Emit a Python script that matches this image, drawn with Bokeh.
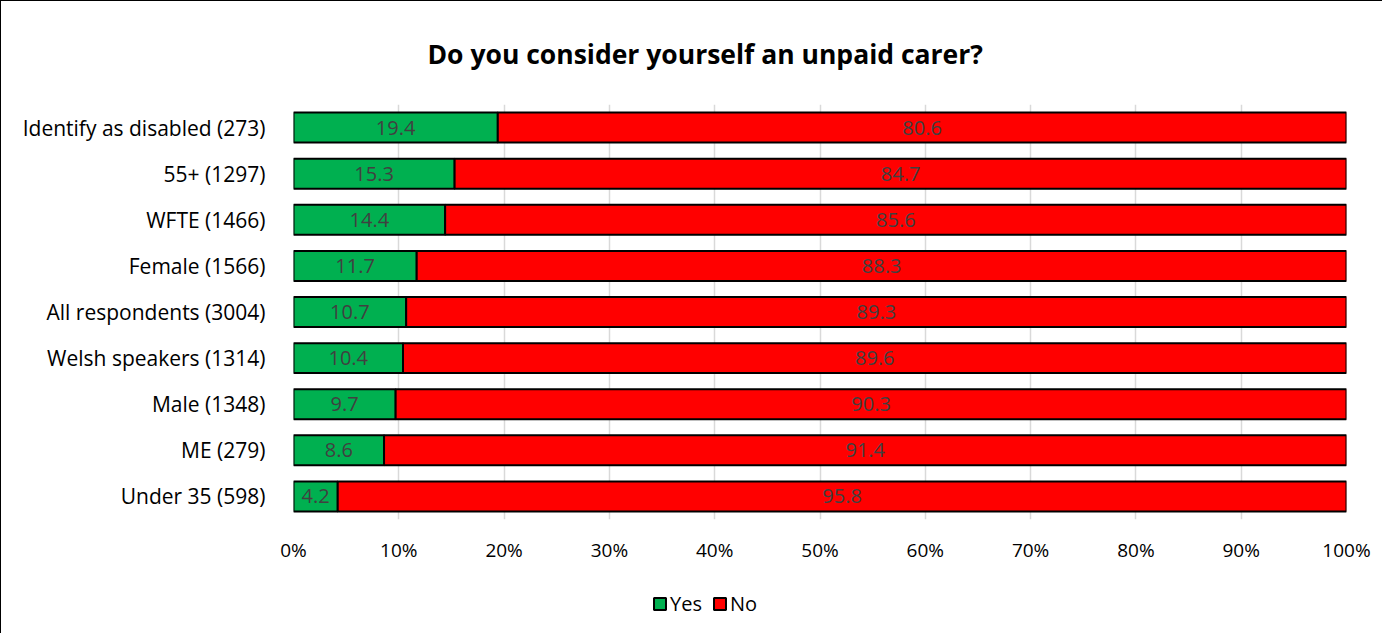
from bokeh.plotting import figure
from bokeh.layouts import column
from bokeh.models import ColumnDataSource, Legend, LegendItem, FixedTicker, CustomJSTickFormatter
from bokeh.embed import file_html
from bokeh.resources import INLINE
from bokeh.core.properties import value

categories = ["Identify as disabled (273)", "55+ (1297)", "WFTE (1466)", "Female (1566)",
              "All respondents (3004)", "Welsh speakers (1314)", "Male (1348)", "ME (279)",
              "Under 35 (598)"]
yes_vals = [19.4, 15.3, 14.4, 11.7, 10.7, 10.4, 9.7, 8.6, 4.2]
no_vals = [80.6, 84.7, 85.6, 88.3, 89.3, 89.6, 90.3, 91.4, 95.8]
series_names = ["Yes", "No"]
x_ticks = [0, 10, 20, 30, 40, 50, 60, 70, 80, 90, 100]

FONT = "Open Sans"
GREEN = "#00B050"
RED = "#FF0000"
BORDER = "1.5px solid black"

factors = list(reversed(categories))

p = figure(frame_width=1052, frame_height=414, y_range=factors, x_range=(0, 100),
           output_backend="svg", toolbar_location=None,
           min_border_left=292, min_border_right=37, min_border_top=103, min_border_bottom=68)
p.styles = {"border-left": BORDER, "border-top": BORDER}

src = ColumnDataSource(dict(
    cat=categories,
    yes_end=yes_vals,
    no_end=[y + n for y, n in zip(yes_vals, no_vals)],
    yes_mid=[y / 2 for y in yes_vals],
    no_mid=[y + n / 2 for y, n in zip(yes_vals, no_vals)],
    yes_txt=[f"{v:.1f}" for v in yes_vals],
    no_txt=[f"{v:.1f}" for v in no_vals],
))

p.hbar(y="cat", left=0, right="yes_end", height=0.65, source=src,
       fill_color=GREEN, line_color="black", line_width=2)
p.hbar(y="cat", left="yes_end", right="no_end", height=0.65, source=src,
       fill_color=RED, line_color="black", line_width=2)

p.text(x="yes_mid", y="cat", text="yes_txt", source=src, text_align="center",
       text_baseline="middle", text_color="#404040", text_font=value(FONT), text_font_size="20px")
p.text(x="no_mid", y="cat", text="no_txt", source=src, text_align="center",
       text_baseline="middle", text_color="#404040", text_font=value(FONT), text_font_size="20px")

p.title.text = "Do you consider yourself an unpaid carer?"
p.title.align = "left"
p.title.offset = 134
p.title.text_font = FONT
p.title.text_font_size = "26.5px"
p.title.text_font_style = "bold"
p.title.text_color = "black"
p.title.standoff = 65

p.xaxis.ticker = FixedTicker(ticks=x_ticks)
p.xaxis.formatter = CustomJSTickFormatter(code="return tick.toFixed(0) + '%';")
p.xaxis.axis_line_color = None
p.xaxis.major_tick_line_color = None
p.xaxis.minor_tick_line_color = None
p.xaxis.major_label_text_font = FONT
p.xaxis.major_label_text_font_size = "19px"
p.xaxis.major_label_text_color = "black"
p.xaxis.major_label_standoff = 11

p.yaxis.axis_line_color = None
p.yaxis.major_tick_line_color = None
p.yaxis.minor_tick_line_color = None
p.yaxis.major_label_text_font = FONT
p.yaxis.major_label_text_font_size = "21px"
p.yaxis.major_label_text_color = "black"
p.yaxis.major_label_standoff = 22

p.xgrid.grid_line_color = "#D9D9D9"
p.xgrid.grid_line_width = 1.5
p.ygrid.grid_line_color = None
p.outline_line_color = None

# legend strip below the chart (swatch glyphs sit outside the visible range; only the legend shows)
p2 = figure(width=1381, height=48, x_range=(0, 1), y_range=(0, 1),
            output_backend="svg", toolbar_location=None, min_border=0)
p2.styles = {"border-left": BORDER}
p2.axis.visible = False
p2.grid.visible = False
p2.outline_line_color = None
g_yes = p2.rect(x=[-5], y=[-5], width=1, height=1, fill_color=GREEN, line_color="black", line_width=2)
g_no = p2.rect(x=[-5], y=[-5], width=1, height=1, fill_color=RED, line_color="black", line_width=2)

legend = Legend(items=[LegendItem(label=series_names[0], renderers=[g_yes]),
                       LegendItem(label=series_names[1], renderers=[g_no])],
                orientation="horizontal", location=(359, 17),
                label_text_font=FONT, label_text_font_size="20px", label_text_color="black",
                glyph_width=15, glyph_height=15, spacing=10, label_standoff=3,
                border_line_color=None, background_fill_alpha=0, margin=0, padding=0)
p2.add_layout(legend, "center")

layout = column(p, p2, spacing=0)
open("out.html", "w").write(file_html(layout, INLINE))
